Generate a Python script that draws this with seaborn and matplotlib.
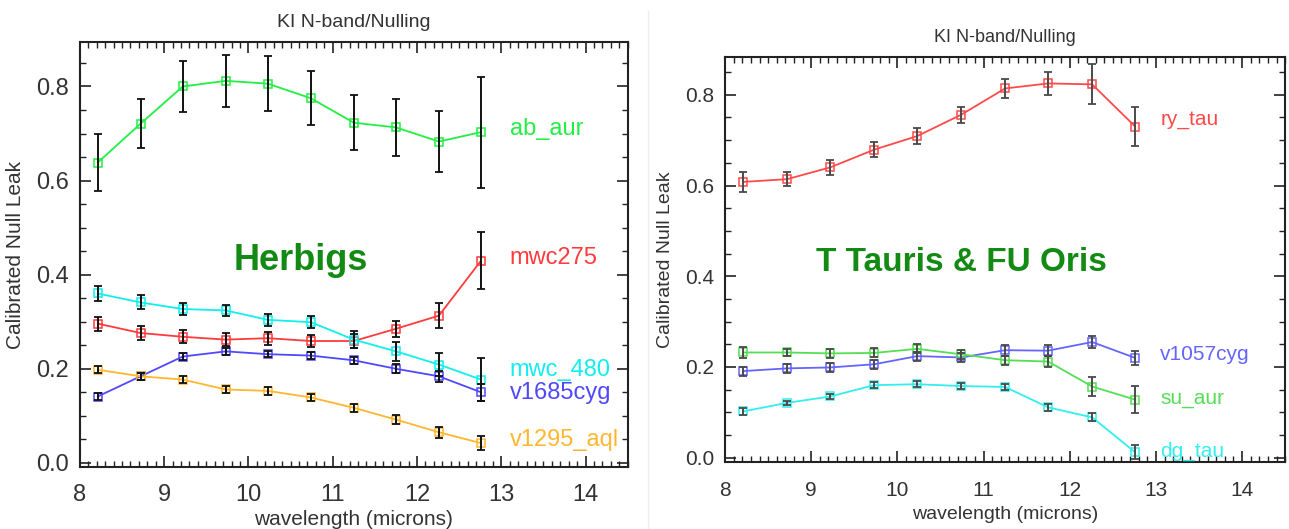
import matplotlib
matplotlib.use("Agg")
import matplotlib.pyplot as plt
from matplotlib.ticker import MultipleLocator
from matplotlib.lines import Line2D
import seaborn as sns
import pandas as pd

# ---------------- data ----------------
wavelength = [8.21, 8.72, 9.22, 9.73, 10.23, 10.74, 11.25, 11.75, 12.26, 12.76]

# Herbigs panel
ab_aur = [0.638, 0.721, 0.800, 0.812, 0.806, 0.775, 0.723, 0.713, 0.683, 0.703]
ab_aur_err = [0.060, 0.052, 0.054, 0.055, 0.058, 0.057, 0.059, 0.060, 0.065, 0.118]
mwc275 = [0.296, 0.276, 0.268, 0.262, 0.265, 0.259, 0.259, 0.285, 0.313, 0.430]
mwc275_err = [0.015, 0.014, 0.014, 0.014, 0.014, 0.013, 0.014, 0.017, 0.027, 0.060]
mwc_480 = [0.360, 0.341, 0.327, 0.324, 0.304, 0.299, 0.262, 0.237, 0.209, 0.177]
mwc_480_err = [0.015, 0.015, 0.012, 0.012, 0.013, 0.013, 0.018, 0.020, 0.025, 0.045]
v1685cyg = [0.141, 0.184, 0.226, 0.237, 0.231, 0.228, 0.218, 0.200, 0.184, 0.150]
v1685cyg_err = [0.007, 0.007, 0.007, 0.008, 0.007, 0.007, 0.007, 0.010, 0.012, 0.018]
v1295_aql = [0.198, 0.184, 0.177, 0.156, 0.153, 0.139, 0.117, 0.092, 0.065, 0.042]
v1295_aql_err = [0.008, 0.007, 0.008, 0.008, 0.008, 0.008, 0.008, 0.010, 0.012, 0.015]

# T Tauris & FU Oris panel
ry_tau = [0.608, 0.614, 0.640, 0.679, 0.709, 0.756, 0.814, 0.825, 0.823, 0.730]
ry_tau_err = [0.022, 0.015, 0.016, 0.016, 0.017, 0.018, 0.020, 0.025, 0.044, 0.043]
su_aur = [0.232, 0.232, 0.230, 0.231, 0.240, 0.228, 0.215, 0.212, 0.157, 0.128]
su_aur_err = [0.012, 0.008, 0.010, 0.010, 0.010, 0.010, 0.010, 0.012, 0.020, 0.030]
v1057cyg = [0.191, 0.197, 0.199, 0.206, 0.224, 0.221, 0.237, 0.236, 0.255, 0.220]
v1057cyg_err = [0.010, 0.010, 0.010, 0.010, 0.010, 0.010, 0.012, 0.012, 0.013, 0.015]
dg_tau = [0.102, 0.121, 0.135, 0.160, 0.162, 0.158, 0.156, 0.111, 0.089, 0.012]
dg_tau_err = [0.008, 0.005, 0.006, 0.007, 0.007, 0.006, 0.006, 0.007, 0.009, 0.015]

left_names = ["ab_aur", "mwc275", "mwc_480", "v1685cyg", "v1295_aql"]
left_values = [ab_aur, mwc275, mwc_480, v1685cyg, v1295_aql]
left_errors = [ab_aur_err, mwc275_err, mwc_480_err, v1685cyg_err, v1295_aql_err]
left_colors = ["#22ee44", "#ff3b3b", "#11eeee", "#5048ff", "#ffb630"]
left_label_y = [0.71, 0.435, 0.198, 0.148, 0.048]

right_names = ["ry_tau", "v1057cyg", "su_aur", "dg_tau"]
right_values = [ry_tau, v1057cyg, su_aur, dg_tau]
right_errors = [ry_tau_err, v1057cyg_err, su_aur_err, dg_tau_err]
right_colors = ["#ff4a4a", "#6464ff", "#55dd55", "#33eeee"]
right_label_y = [0.745, 0.227, 0.13, 0.013]

title_text = "KI N-band/Nulling"
xlabel_text = "wavelength (microns)"
ylabel_text = "Calibrated Null Leak"

# ---------------- style ----------------
sns.set_theme(style="ticks")
plt.rcParams["font.family"] = ["Liberation Sans", "DejaVu Sans"]

fig = plt.figure(figsize=(12.89, 5.29), dpi=100)
axL = fig.add_axes([0.062, 0.117, 0.425, 0.804])
axR = fig.add_axes([0.5625, 0.127, 0.4345, 0.765])

fig.add_artist(Line2D([0.503, 0.503], [0.0, 0.98], color="#eeeeee", lw=1.0))


def draw_panel(ax, names, values, errors, colors, label_y, ecolor,
               label_x, big_text, big_xy, fs_tick, fs_lab, fs_series, fs_big,
               ylim, xpad, xlabelpad):
    for name, vals, errs, col in zip(names, values, errors, colors):
        df = pd.DataFrame({"wavelength": wavelength, "leak": vals})
        sns.lineplot(data=df, x="wavelength", y="leak", ax=ax, color=col,
                     lw=1.3, marker="s", markersize=5.5,
                     markerfacecolor="none", markeredgecolor=col,
                     markeredgewidth=1.1, zorder=2)
        ax.errorbar(wavelength, vals, yerr=errs, fmt="none", ecolor=ecolor,
                    elinewidth=1.4, capsize=3, capthick=1.3, zorder=3)
    for name, y, col in zip(names, label_y, colors):
        ax.text(label_x, y, name, color=col, fontsize=fs_series,
                ha="left", va="center")
    ax.text(big_xy[0], big_xy[1], big_text, color="#138a13",
            fontsize=fs_big, fontweight="bold", ha="center", va="center")

    ax.set_xlim(8, 14.5)
    ax.set_ylim(*ylim)
    ax.xaxis.set_major_locator(MultipleLocator(1))
    ax.xaxis.set_minor_locator(MultipleLocator(0.1))
    ax.yaxis.set_major_locator(MultipleLocator(0.2))
    ax.yaxis.set_minor_locator(MultipleLocator(0.05))
    ax.yaxis.set_major_formatter(matplotlib.ticker.FormatStrFormatter("%.1f"))
    ax.tick_params(which="both", direction="in", top=True, right=True,
                   colors="#222222", labelcolor="#333333")
    ax.tick_params(which="major", length=8, width=1.2, labelsize=fs_tick,
                   pad=8)
    ax.tick_params(axis="x", which="major", pad=xpad)
    ax.tick_params(which="minor", length=4, width=1.0)
    for sp in ax.spines.values():
        sp.set_linewidth(1.5)
        sp.set_color("#222222")
    ax.set_xlabel(xlabel_text, fontsize=fs_lab, color="#333333",
                  labelpad=xlabelpad)
    ax.set_ylabel(ylabel_text, fontsize=fs_lab, color="#333333", labelpad=8)
    ax.set_title(title_text, fontsize=fs_lab - 1, color="#333333", pad=11)


draw_panel(axL, left_names, left_values, left_errors, left_colors,
           left_label_y, "#111111", 13.1, "Herbigs", (10.62, 0.43),
           17, 15, 17, 26, (-0.009, 0.895), 12, 3)
draw_panel(axR, right_names, right_values, right_errors, right_colors,
           right_label_y, "#4a4a4a", 13.05, "T Tauris & FU Oris",
           (10.74, 0.43), 15, 14, 15, 24, (-0.009, 0.883), 14, 4)

fig.savefig("out.png", dpi=100, facecolor="white")
